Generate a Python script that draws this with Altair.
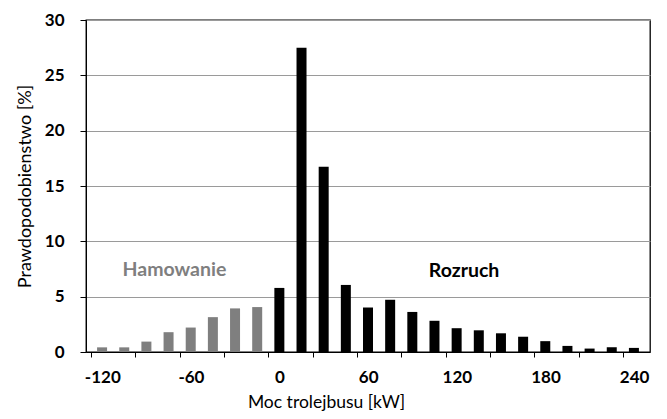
import altair as alt
import pandas as pd

# --- data ---
moc = [-120, -105, -90, -75, -60, -45, -30, -15,
       0, 15, 30, 45, 60, 75, 90, 105, 120, 135, 150, 165, 180, 195, 210, 225, 240]
prawd = [0.42, 0.42, 0.94, 1.79, 2.21, 3.15, 3.94, 4.06,
         5.79, 27.5, 16.75, 6.06, 4.02, 4.72, 3.62, 2.82, 2.15, 1.96, 1.69, 1.38,
         0.98, 0.55, 0.31, 0.43, 0.37]
tryb = ["Hamowanie"] * 8 + ["Rozruch"] * 17

y_ticks = [0, 5, 10, 15, 20, 25, 30]
# category boundaries (tick marks sit between the categories)
boundaries = [-127.5 + 15 * i for i in range(26)]

ann_text = ["Hamowanie", "Rozruch"]
ann_x = [-71, 125]
ann_y = [7.4, 7.3]
ann_color = ["#7f7f7f", "#000000"]

df = pd.DataFrame({"moc": moc, "p": prawd, "tryb": tryb})
df_a = pd.DataFrame({"t": ann_text, "x": ann_x, "y": ann_y, "c": ann_color})

FONT = "Lato"
W, H = 564, 332
xscale = alt.Scale(domain=[-127.5, 247.5], nice=False, zero=False)
yscale = alt.Scale(domain=[0, 30], nice=False)

label_expr = ("(datum.value + 127.5) % 60 == 0 ? '' + (datum.value + 7.5) : ''")

bars = alt.Chart(df).mark_bar(size=10).encode(
    x=alt.X("moc:Q", scale=xscale,
            axis=alt.Axis(values=boundaries, labelExpr=label_expr,
                          labelOffset=7.5 * W / 375, labelOverlap=False,
                          labelFlush=False, ticks=True, tickSize=5,
                          tickColor="black", grid=False, orient="bottom",
                          title="Moc trolejbusu  [kW]", domainColor="black",
                          labelFont=FONT, labelFontWeight="bold", labelFontSize=17,
                          labelColor="black", labelPadding=12,
                          titleFont=FONT, titleFontWeight="normal", titleFontSize=17.5,
                          titleColor="black", titlePadding=8, titleX=240)),
    y=alt.Y("p:Q", scale=yscale,
            axis=alt.Axis(values=y_ticks, grid=True, gridColor="#9a9a9a",
                          tickColor="black", tickSize=6, domainColor="black",
                          labelFont=FONT, labelFontWeight="bold", labelFontSize=17,
                          labelColor="black", labelPadding=16,
                          title="Prawdopodobienstwo [%]", titleFont=FONT,
                          titleFontWeight="normal", titleFontSize=18,
                          titleColor="black", titlePadding=10)),
    color=alt.Color("tryb:N", scale=alt.Scale(domain=["Hamowanie", "Rozruch"],
                                              range=["#7f7f7f", "#000000"]),
                    legend=None),
)

texts = alt.Chart(df_a).mark_text(font=FONT, fontWeight="bold", fontSize=19.5,
                                  align="center", baseline="middle").encode(
    x=alt.X("x:Q", scale=xscale),
    y=alt.Y("y:Q", scale=yscale),
    text="t:N",
    color=alt.Color("c:N", scale=None),
)

chart = alt.layer(bars, texts).properties(
    width=W, height=H,
    autosize=alt.AutoSizeParams(type="none"),
    padding={"left": 78, "top": 12, "right": 9, "bottom": 59},
).configure_view(stroke="black", strokeWidth=1.3)

chart.save("out.html", embed_options={"renderer": "svg", "actions": False})
